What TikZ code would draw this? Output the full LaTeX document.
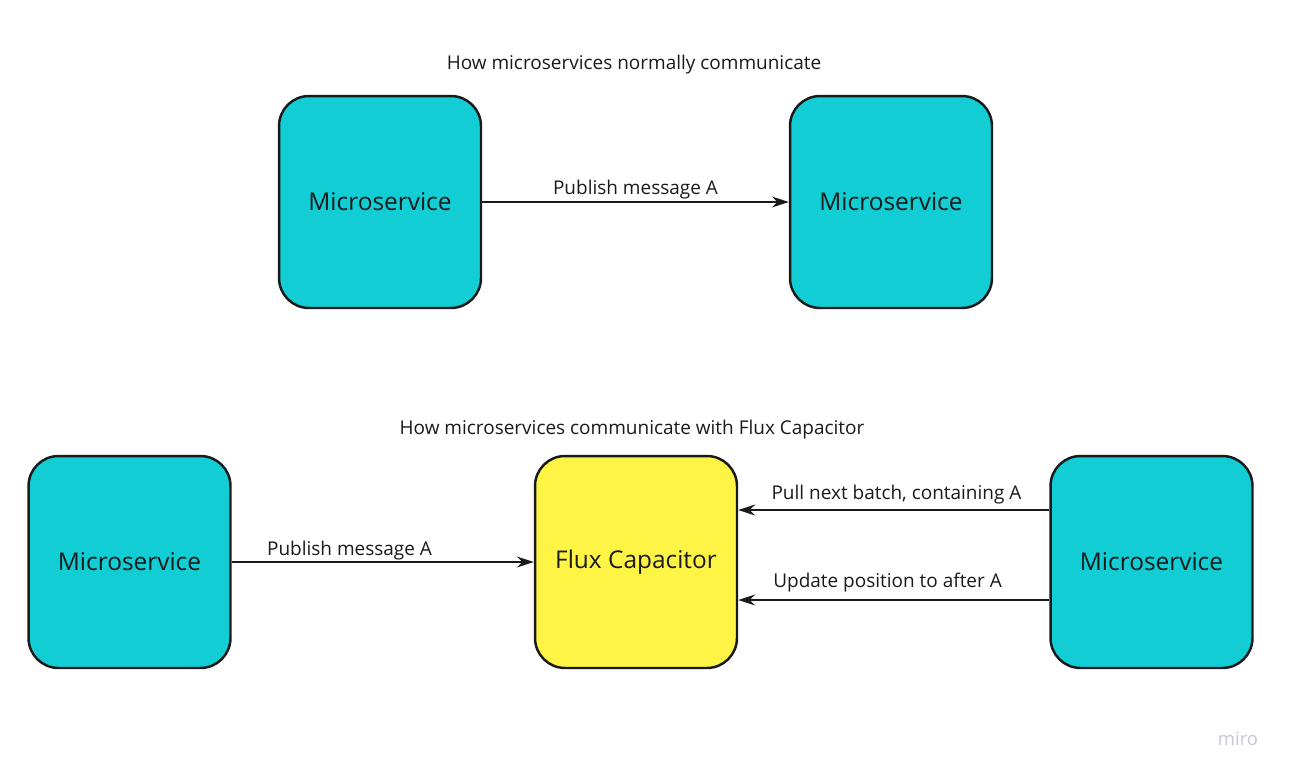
\documentclass[tikz,border=0pt]{standalone}
\usepackage{fontspec}
\setmainfont{Open Sans}
\usetikzlibrary{positioning, arrows.meta}

\definecolor{svccyan}{HTML}{12CDD4}
\definecolor{fluxyellow}{HTML}{FEF445}
\definecolor{inkdark}{HTML}{1A1A1A}
\definecolor{logogray}{HTML}{C5C7D3}

\begin{document}
\begin{tikzpicture}[x=0.02cm,y=-0.02cm]
\tikzstyle{every node}=[text=inkdark]
\tikzstyle{service}=[draw=inkdark, line width=1.4pt, rounded corners=0.6cm,
  minimum width=4.04cm, minimum height=4.24cm, fill=svccyan, font=\fontsize{13.9}{16}\selectfont]
\tikzstyle{msg}=[draw=inkdark, line width=0.8pt, -{Stealth[length=0.34cm,width=0.22cm]}]
\tikzstyle{lbl}=[font=\fontsize{10.8}{13}\selectfont, inner sep=2pt]

\useasboundingbox (0,0) rectangle (1289,775);

% normal communication
\node[lbl] (title1) at (634,65) {How microservices normally communicate};
\node[service] (A) at (380,202) {Microservice};
\node[service] (B) at (891,202) {Microservice};
\draw[msg] (A) -- node[lbl,above,inner sep=1pt] {Publish message A} (B);

% with flux capacitor
\node[lbl] (title2) at (632,430) {How microservices communicate with Flux Capacitor};
\node[service] (P) at (129.5,562) {Microservice};
\node[service,fill=fluxyellow] (F) at (636,562) {Flux Capacitor};
\node[service] (C) at (1151.5,562) {Microservice};
\coordinate (pullC) at ([yshift=1.04cm]C.west);
\coordinate (updC) at ([yshift=-0.76cm]C.west);
\draw[msg] (P) -- node[lbl,above,pos=0.39,inner sep=0.5pt] {Publish message A} (F);
\draw[msg] (pullC) -- node[lbl,above right,pos=0.912,inner sep=3pt] {Pull next batch, containing A} (pullC -| F.east);
\draw[msg] (updC) -- node[lbl,above right,pos=0.912,inner sep=4pt] {Update position to after A} (updC -| F.east);

\node[font=\fontsize{10.5}{12}\selectfont, text=logogray] (logo) at (1238,739) {miro};
\end{tikzpicture}
\end{document}
